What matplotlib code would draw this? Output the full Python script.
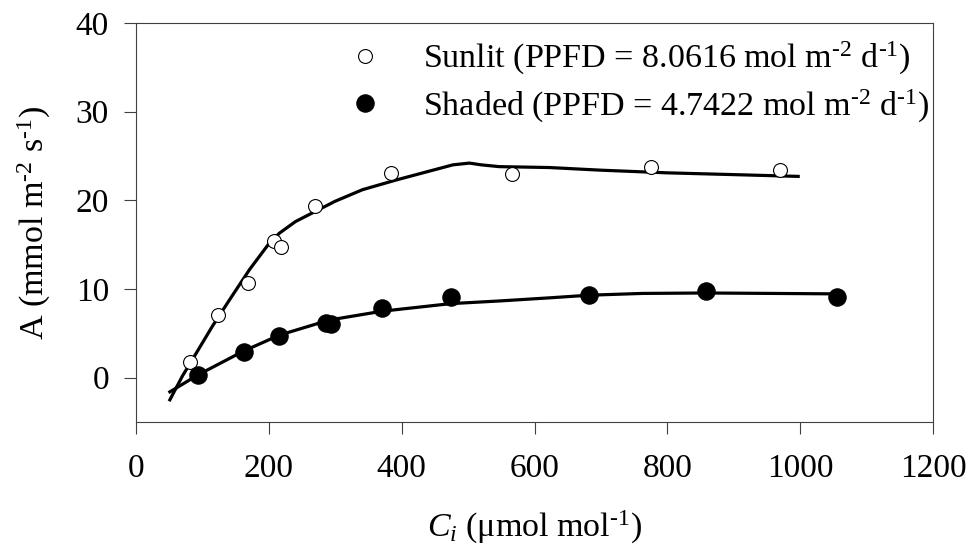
import matplotlib
matplotlib.use("Agg")
import matplotlib.pyplot as plt
from matplotlib.lines import Line2D

plt.rcParams['font.family'] = ['Liberation Serif', 'DejaVu Serif']
plt.rcParams['mathtext.fontset'] = 'custom'
plt.rcParams['mathtext.rm'] = 'Liberation Serif'
plt.rcParams['mathtext.it'] = 'Liberation Serif:italic'
plt.rcParams['mathtext.bf'] = 'Liberation Serif:bold'

# Observed data
sun_ci = [81, 123, 169, 208, 218, 269, 384, 566, 776, 969]
sun_a = [1.8, 7.1, 10.7, 15.4, 14.7, 19.4, 23.1, 23.0, 23.8, 23.4]
shade_ci = [94, 162, 216, 286, 293, 370, 474, 682, 858, 1055]
shade_a = [0.35, 2.9, 4.7, 6.2, 6.0, 7.85, 9.1, 9.3, 9.8, 9.05]

# Fitted curves
sun_fit_ci = [51, 70, 91, 115, 141, 171, 201, 216, 240, 266, 300, 341, 392,
              477, 502, 520, 547, 622, 700, 800, 900, 997]
sun_fit_a = [-2.5, 0.2, 2.8, 5.8, 8.8, 12.2, 15.2, 16.3, 17.6, 18.6, 19.9,
             21.2, 22.3, 24.0, 24.2, 24.0, 23.8, 23.7, 23.4, 23.1, 22.9, 22.7]
shade_fit_ci = [51, 93, 162, 216, 291, 371, 474, 547, 622, 682, 762, 858, 960, 1055]
shade_fit_a = [-1.6, 0.3, 3.0, 4.8, 6.5, 7.5, 8.35, 8.65, 9.0, 9.3, 9.5, 9.55, 9.5, 9.45]

xticks = [0, 200, 400, 600, 800, 1000, 1200]
yticks = [0, 10, 20, 30, 40]

fig = plt.figure(figsize=(9.71, 5.58), dpi=100)
ax = fig.add_axes([136/971, 1 - 422/558, (933-136)/971, (422-23)/558])

ax.plot(sun_fit_ci, sun_fit_a, color='black', lw=2.3, zorder=2)
ax.plot(shade_fit_ci, shade_fit_a, color='black', lw=2.3, zorder=2)
ax.plot(sun_ci, sun_a, 'o', ms=10, mfc='white', mec='black', mew=0.8, zorder=3)
ax.plot(shade_ci, shade_a, 'o', ms=12.5, mfc='black', mec='black', mew=0.8, zorder=3)

ax.set_xlim(0, 1200)
ax.set_ylim(-5, 40)
ax.set_xticks(xticks)
ax.set_yticks(yticks)
ax.tick_params(axis='both', direction='out', length=8.5, width=0.8,
               color='#404040', labelsize=24)
ax.tick_params(axis='y', pad=11)
ax.tick_params(axis='x', pad=14)
for s in ax.spines.values():
    s.set_linewidth(0.8)
    s.set_color('#404040')

sup2 = r'$^{\text{-2}}$'
sup1 = r'$^{\text{-1}}$'
ax.set_ylabel('A (mmol m' + sup2 + ' s' + sup1 + ')', fontsize=24.5, labelpad=16)
ax.set_xlabel(r'$C_i$ ($\mathrm{\mu}$mol mol' + sup1 + ')', fontsize=24.5, labelpad=18)

handles = [
    Line2D([], [], ls='none', marker='o', ms=10, mfc='white', mec='black', mew=0.8),
    Line2D([], [], ls='none', marker='o', ms=12.5, mfc='black', mec='black', mew=0.8),
]
labels = ['Sunlit (PPFD = 8.0616 mol m' + sup2 + ' d' + sup1 + ')',
          'Shaded (PPFD = 4.7422 mol m' + sup2 + ' d' + sup1 + ')']
ax.legend(handles, labels, loc='upper left', bbox_to_anchor=(0.21, 1.025),
          frameon=False, fontsize=24.5, handletextpad=0.72, labelspacing=0.3,
          borderpad=0.3)

fig.savefig('out.png', dpi=100)
